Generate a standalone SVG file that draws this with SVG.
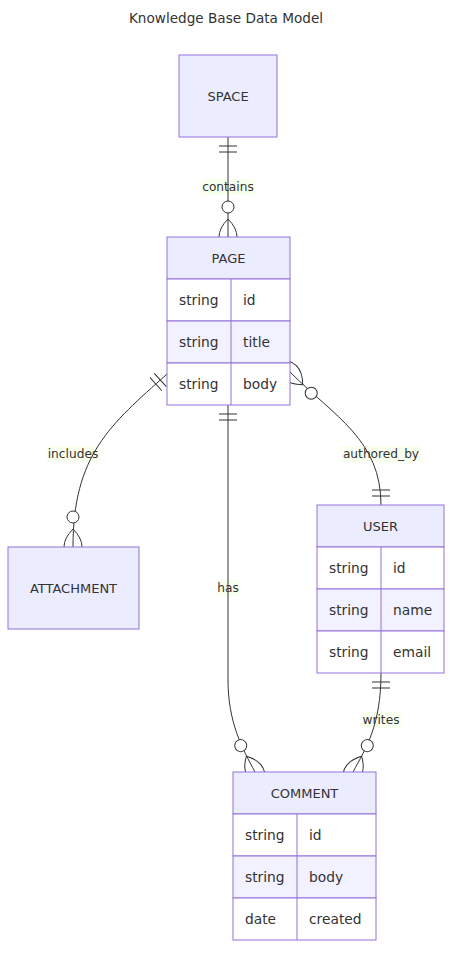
<svg xmlns="http://www.w3.org/2000/svg" width="461" height="964" viewBox="0 0 461 964">
<style>
  .box { fill: #ECECFF; stroke: #9370DB; stroke-width: 1; }
  .odd { fill: #FFFFFF; stroke: #9370DB; stroke-width: 1; }
  .even { fill: #F1F1FF; stroke: #9370DB; stroke-width: 1; }
  .div { stroke: #9370DB; stroke-width: 1; }
  .ename { font-family: "DejaVu Sans", sans-serif; font-size: 13px; fill: #333333; text-anchor: middle; dominant-baseline: central; }
  .attr { font-family: "DejaVu Sans", sans-serif; font-size: 13.8px; fill: #333333; dominant-baseline: central; }
  .title { font-family: "DejaVu Sans", sans-serif; font-size: 13.6px; fill: #333333; text-anchor: middle; dominant-baseline: central; }
  .edge { fill: none; stroke: #333333; stroke-width: 1; }
  .lbl { font-family: "DejaVu Sans", sans-serif; font-size: 12.2px; fill: #333333; text-anchor: middle; dominant-baseline: central; }
  .lblbg { fill: #F5FFE8; opacity: 0.7; }
  .mk { fill: none; stroke: #333333; stroke-width: 1; }
  .mkc { fill: #FFFFFF; stroke: #333333; stroke-width: 1; }
</style>
<defs>
  <marker id="oneStart" markerUnits="userSpaceOnUse" refX="0" refY="9" markerWidth="18" markerHeight="18" orient="auto">
    <path class="mk" d="M9,0 L9,18 M15,0 L15,18"/>
  </marker>
  <marker id="oneEnd" markerUnits="userSpaceOnUse" refX="18" refY="9" markerWidth="18" markerHeight="18" orient="auto">
    <path class="mk" d="M3,0 L3,18 M9,0 L9,18"/>
  </marker>
  <marker id="zmEnd" markerUnits="userSpaceOnUse" refX="39" refY="18" markerWidth="57" markerHeight="36" orient="auto">
    <circle class="mkc" cx="9" cy="18" r="6"/>
    <path class="mk" d="M21,18 Q39,0 57,18 Q39,36 21,18"/>
  </marker>
  <marker id="zmStart" markerUnits="userSpaceOnUse" refX="18" refY="18" markerWidth="57" markerHeight="36" orient="auto">
    <circle class="mkc" cx="48" cy="18" r="6"/>
    <path class="mk" d="M0,18 Q18,0 36,18 Q18,36 0,18"/>
  </marker>
</defs>

<text class="title" x="226" y="18">Knowledge Base Data Model</text>

<g id="connectors">
  <rect class="lblbg" x="201" y="179" width="54" height="16"/>
  <rect class="lblbg" x="47" y="446" width="53" height="16"/>
  <rect class="lblbg" x="341" y="446" width="80" height="16"/>
  <rect class="lblbg" x="217" y="580" width="22" height="16"/>
  <rect class="lblbg" x="361" y="712" width="40" height="16"/>

  <path class="edge" d="M228,137 L228,237" marker-start="url(#oneStart)" marker-end="url(#zmEnd)"/>
  <path class="edge" d="M167,374 C110,425 73,455 73,547" marker-start="url(#oneStart)" marker-end="url(#zmEnd)"/>
  <path class="edge" d="M290,372 C335,417 381,440 381,505" marker-start="url(#zmStart)" marker-end="url(#oneEnd)"/>
  <path class="edge" d="M228,405 L228,680 C228,722 242,748 255,772" marker-start="url(#oneStart)" marker-end="url(#zmEnd)"/>
  <path class="edge" d="M381,673 C381,725 366,748 353,772" marker-start="url(#oneStart)" marker-end="url(#zmEnd)"/>

  <text class="lbl" x="228" y="187">contains</text>
  <text class="lbl" x="73" y="454">includes</text>
  <text class="lbl" x="381" y="454">authored_by</text>
  <text class="lbl" x="228" y="588">has</text>
  <text class="lbl" x="381" y="720">writes</text>
</g>

<g id="SPACE">
  <rect class="box" x="179" y="55" width="98" height="82"/>
  <text class="ename" x="228" y="96">SPACE</text>
</g>

<g id="PAGE">
  <rect class="box" x="167" y="237" width="123" height="42"/>
  <text class="ename" x="228.5" y="258">PAGE</text>
  <rect class="odd" x="167" y="279" width="123" height="42"/>
  <rect class="even" x="167" y="321" width="123" height="42"/>
  <rect class="odd" x="167" y="363" width="123" height="42"/>
  <line class="div" x1="231" y1="279" x2="231" y2="405"/>
  <text class="attr" x="179" y="300">string</text>
  <text class="attr" x="243" y="300">id</text>
  <text class="attr" x="179" y="342">string</text>
  <text class="attr" x="243" y="342">title</text>
  <text class="attr" x="179" y="384">string</text>
  <text class="attr" x="243" y="384">body</text>
</g>

<g id="ATTACHMENT">
  <rect class="box" x="8" y="547" width="131" height="82"/>
  <text class="ename" x="73.5" y="588">ATTACHMENT</text>
</g>

<g id="USER">
  <rect class="box" x="317" y="505" width="127" height="42"/>
  <text class="ename" x="380.5" y="526">USER</text>
  <rect class="odd" x="317" y="547" width="127" height="42"/>
  <rect class="even" x="317" y="589" width="127" height="42"/>
  <rect class="odd" x="317" y="631" width="127" height="42"/>
  <line class="div" x1="381" y1="547" x2="381" y2="673"/>
  <text class="attr" x="329" y="568">string</text>
  <text class="attr" x="393" y="568">id</text>
  <text class="attr" x="329" y="610">string</text>
  <text class="attr" x="393" y="610">name</text>
  <text class="attr" x="329" y="652">string</text>
  <text class="attr" x="393" y="652">email</text>
</g>

<g id="COMMENT">
  <rect class="box" x="233" y="772" width="143" height="42"/>
  <text class="ename" x="304.5" y="793">COMMENT</text>
  <rect class="odd" x="233" y="814" width="143" height="42"/>
  <rect class="even" x="233" y="856" width="143" height="42"/>
  <rect class="odd" x="233" y="898" width="143" height="42"/>
  <line class="div" x1="297" y1="814" x2="297" y2="940"/>
  <text class="attr" x="245" y="835">string</text>
  <text class="attr" x="309" y="835">id</text>
  <text class="attr" x="245" y="877">string</text>
  <text class="attr" x="309" y="877">body</text>
  <text class="attr" x="245" y="919">date</text>
  <text class="attr" x="309" y="919">created</text>
</g>
</svg>
